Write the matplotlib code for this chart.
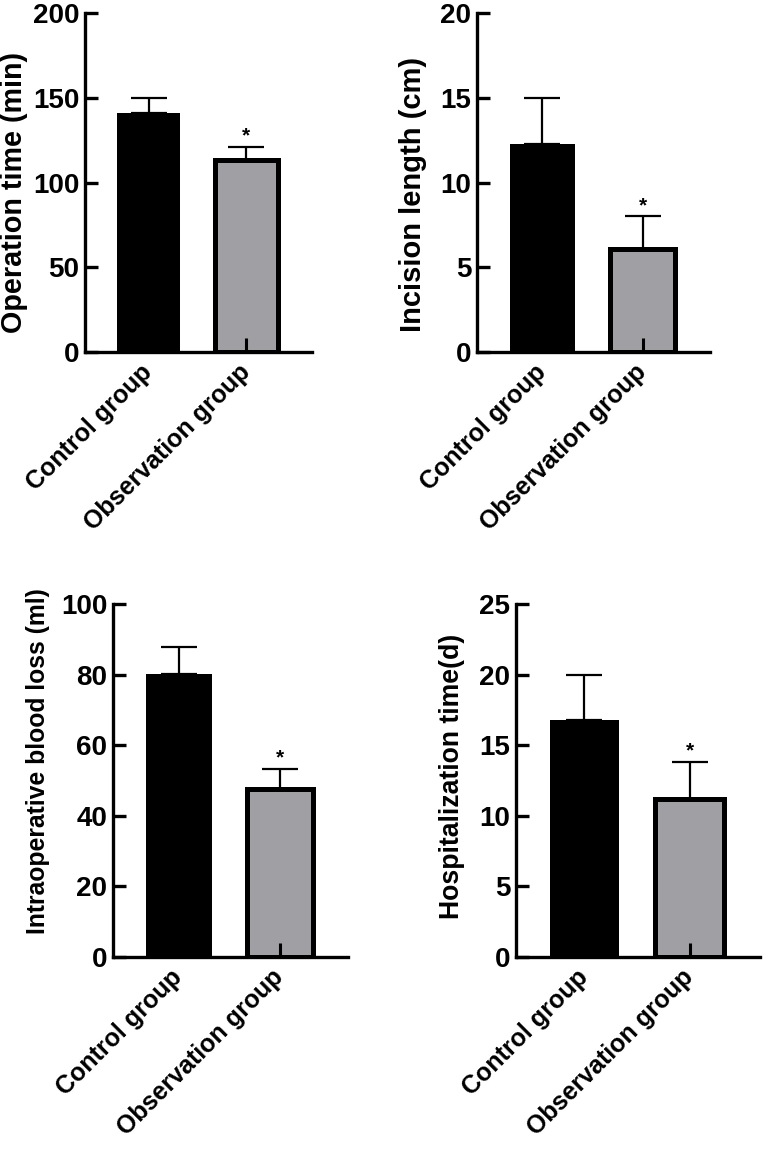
import matplotlib
matplotlib.use("Agg")
import matplotlib.pyplot as plt
import matplotlib.transforms as mtrans

plt.rcParams['font.family'] = ['Liberation Sans', 'DejaVu Sans']
plt.rcParams['font.weight'] = 'bold'

categories = ["Control group", "Observation group"]

op_time_mean = [141, 113]
op_time_sd = [9, 8]
incision_mean = [12.3, 6.1]
incision_sd = [2.7, 1.9]
blood_mean = [80.3, 47.6]
blood_sd = [7.4, 5.7]
hosp_mean = [16.8, 11.2]
hosp_sd = [3.2, 2.6]

panels = [
    dict(mean=op_time_mean, sd=op_time_sd, ylabel="Operation time (min)", ymax=200, yticks=[0, 50, 100, 150, 200],
         rect=(85, 13, 312, 352), labx=-0.25, laby=0.47, labfs=20.7),
    dict(mean=incision_mean, sd=incision_sd, ylabel="Incision length (cm)", ymax=20, yticks=[0, 5, 10, 15, 20],
         rect=(477, 13, 710, 352), labx=-0.215, laby=0.465, labfs=21),
    dict(mean=blood_mean, sd=blood_sd, ylabel="Intraoperative blood loss (ml)", ymax=100, yticks=[0, 20, 40, 60, 80, 100],
         rect=(113, 604, 348, 957), labx=-0.27, laby=0.555, labfs=17.8),
    dict(mean=hosp_mean, sd=hosp_sd, ylabel="Hospitalization time(d)", ymax=25, yticks=[0, 5, 10, 15, 20, 25],
         rect=(516, 604, 760, 957), labx=-0.21, laby=0.513, labfs=19.2),
]

W, H = 765, 1151
fig = plt.figure(figsize=(W / 100, H / 100), dpi=100)

bar_colors = ["#000000", "#a09fa4"]

for p in panels:
    x0, y0, x1, y1 = p["rect"]
    ax = fig.add_axes([x0 / W, 1 - y1 / H, (x1 - x0) / W, (y1 - y0) / H])
    xs = list(range(len(categories)))
    ax.bar(xs, p["mean"], width=0.65, color=bar_colors, edgecolor="black",
           linewidth=[0, 3.6], zorder=2)
    ax.errorbar(xs, p["mean"], yerr=[[0, 0], p["sd"]], fmt="none", ecolor="black",
                elinewidth=1.6, capsize=13, capthick=1.6, zorder=1)
    # small stub of the lower error bar visible at the base of the observation bar
    trans = mtrans.blended_transform_factory(ax.transData, ax.transAxes)
    ax.plot([1, 1], [0, 0.04], color="black", lw=2.2, transform=trans, zorder=3, solid_capstyle="butt")
    # significance marker
    ax.annotate("*", xy=(1, p["mean"][1] + p["sd"][1]), xytext=(0, 1), textcoords="offset points",
                ha="center", va="bottom", fontsize=15, fontweight="bold")
    ax.set_xlim(-0.65, 1.67)
    ax.set_ylim(0, p["ymax"])
    ax.set_yticks(p["yticks"])
    ax.set_xticks(xs)
    ax.set_xticklabels(categories, rotation=45, ha="right", va="center", rotation_mode="anchor",
                       fontsize=18, fontweight="bold")
    ax.set_ylabel(p["ylabel"], fontsize=p["labfs"], fontweight="bold")
    ax.yaxis.set_label_coords(p["labx"], p["laby"])
    for s in ["top", "right"]:
        ax.spines[s].set_visible(False)
    for s in ["left", "bottom"]:
        ax.spines[s].set_linewidth(2.4)
    ax.tick_params(axis="y", direction="in", length=9, width=2.4, labelsize=20, pad=4)
    ax.tick_params(axis="x", length=0, pad=12)
    for lab in ax.get_yticklabels():
        lab.set_fontweight("bold")

fig.savefig("out.png", dpi=100)
